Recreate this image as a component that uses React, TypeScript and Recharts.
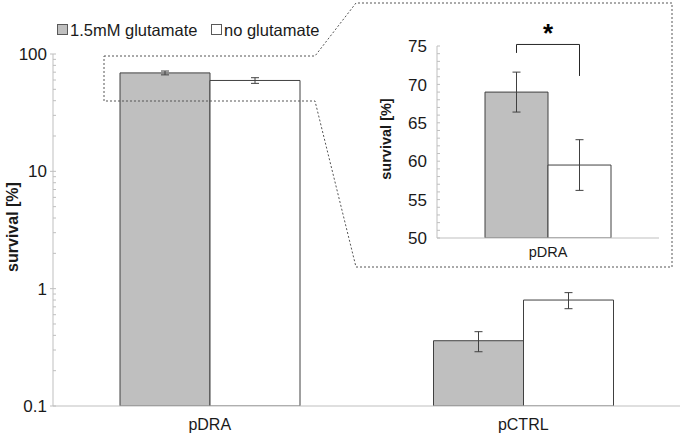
import React from 'react'
import { BarChart, Bar, XAxis, YAxis, ErrorBar, LabelList } from 'recharts'

const categories = ['pDRA', 'pCTRL']
const glutamate = [69.0, 0.36]
const glutamateErr = [2.6, 0.07]
const noGlutamate = [59.5, 0.8]
const noGlutamateErr = [3.3, 0.125]
const seriesNames = ['1.5mM glutamate', 'no glutamate']

const majorTicks = [0.1, 1, 10, 100]
const minorSteps = [2, 3, 4, 5, 6, 7, 8, 9]
const insetTicks = [50, 51, 52, 53, 54, 55, 56, 57, 58, 59, 60, 61, 62, 63, 64, 65, 66, 67, 68, 69, 70, 71, 72, 73, 74, 75]

// significance bracket, in inset data units
const bracketTop = 75.2
const bracketLeft = 74.1
const bracketRight = 71.1

const FONT = '"Liberation Sans", Arial, sans-serif'
const TEXT = '#1a1a1a'
const AXIS = '#bfbfbf'
const EDGE = '#404040'
const GRAY = '#bfbfbf'

const data = categories.map((c, i) => ({
  name: c,
  glu: glutamate[i],
  gluErr: glutamateErr[i],
  none: noGlutamate[i],
  noneErr: noGlutamateErr[i],
}))
const insetData = data.slice(0, 1)

const allTicks: number[] = []
majorTicks.forEach((m, i) => {
  allTicks.push(m)
  if (i < majorTicks.length - 1) minorSteps.forEach((s) => allTicks.push(+(m * s).toFixed(3)))
})

const LogTick = (props: any) => {
  const { x, y, payload } = props
  const major = majorTicks.includes(payload.value)
  return (
    <g>
      <line x1={major ? x - 3 : x} x2={x + 3} y1={y} y2={y} stroke={AXIS} />
      {major && (
        <text x={x - 6} y={y} dy="0.36em" textAnchor="end" fontSize={17} fill={TEXT} fontFamily={FONT}>
          {payload.value}
        </text>
      )}
    </g>
  )
}

const InsetTick = (props: any) => {
  const { x, y, payload } = props
  const major = payload.value % 5 === 0
  return (
    <g>
      <line x1={x} x2={x + 3} y1={y} y2={y} stroke={AXIS} />
      {major && (
        <text x={x - 10} y={y} dy="0.36em" textAnchor="end" fontSize={17} fill={TEXT} fontFamily={FONT}>
          {payload.value}
        </text>
      )}
    </g>
  )
}

const CatTick = (props: any) => {
  const { x, y, payload, dy, fs } = props
  return (
    <text x={x} y={y + dy} textAnchor="middle" fontSize={fs} fill={TEXT} fontFamily={FONT}>
      {payload.value}
    </text>
  )
}

const Bracket = (props: any) => {
  const { x, y, width, height, value, index } = props
  if (index !== 0) return null
  const base = y + height
  const px = (v: number) => base - ((v - 50) * height) / (value - 50)
  const c1 = x + width / 2
  const c2 = c1 + width
  return (
    <g>
      <path
        d={`M${c1},${px(bracketLeft)} V${px(bracketTop)} H${c2} V${px(bracketRight)}`}
        fill="none"
        stroke="#262626"
        strokeWidth={1}
      />
      <text x={(c1 + c2) / 2} y={px(bracketTop) - 2} textAnchor="middle" fontSize={26} fontWeight="bold" fill="#000" fontFamily={FONT}>
        *
      </text>
    </g>
  )
}

export default function App() {
  return (
    <div style={{ position: 'absolute', left: 0, top: 0, width: 683, height: 437, background: '#fff', fontFamily: FONT }}>
      <BarChart width={683} height={437} data={data} margin={{ top: 54, right: 3, left: 0, bottom: 0 }} barSize={90} barGap={0}>
        <XAxis
          dataKey="name"
          height={31}
          axisLine={{ stroke: AXIS }}
          tickLine={false}
          tickSize={0}
          tickMargin={0}
          tick={<CatTick dy={24} fs={16} />}
        />
        <YAxis
          scale="log"
          domain={[0.1, 100]}
          allowDataOverflow
          ticks={allTicks}
          interval={0}
          width={53}
          axisLine={{ stroke: AXIS }}
          tickLine={false}
          tickSize={0}
          tickMargin={0}
          tick={<LogTick />}
        />
        <Bar dataKey="glu" name={seriesNames[0]} fill={GRAY} stroke={EDGE} strokeWidth={1} isAnimationActive={false}>
          <ErrorBar dataKey="gluErr" width={4} stroke={EDGE} strokeWidth={1} direction="y" />
        </Bar>
        <Bar dataKey="none" name={seriesNames[1]} fill="#ffffff" stroke={EDGE} strokeWidth={1} isAnimationActive={false}>
          <ErrorBar dataKey="noneErr" width={4} stroke={EDGE} strokeWidth={1} direction="y" />
        </Bar>
      </BarChart>

      <svg width={683} height={437} style={{ position: 'absolute', left: 0, top: 0, pointerEvents: 'none' }}>
        <polygon
          points="104,56 315,56 356,3 672,3 672,267 356,267 315,101 104,101"
          fill="none"
          stroke="#555"
          strokeWidth={1}
          strokeDasharray="2 2"
        />
        <g fontFamily={FONT} fontSize={16.5} fill={TEXT}>
          <rect x={57.5} y={24.5} width={10} height={10} fill={GRAY} stroke="#595959" />
          <text x={70} y={36}>{seriesNames[0]}</text>
          <rect x={211.5} y={24.5} width={10} height={10} fill="#fff" stroke="#595959" />
          <text x={224} y={36}>{seriesNames[1]}</text>
        </g>
        <text
          x={12}
          y={227}
          transform="rotate(-90 12 227)"
          textAnchor="middle"
          dy="0.36em"
          fontSize={16}
          fontWeight="bold"
          fill={TEXT}
          fontFamily={FONT}
        >
          survival [%]
        </text>
        <text
          x={386}
          y={139}
          transform="rotate(-90 386 139)"
          textAnchor="middle"
          dy="0.36em"
          fontSize={14.5}
          fontWeight="bold"
          fill={TEXT}
          fontFamily={FONT}
        >
          survival [%]
        </text>
      </svg>

      <div style={{ position: 'absolute', left: 355, top: 3 }}>
        <BarChart width={318} height={265} data={insetData} margin={{ top: 43, right: 14, left: 0, bottom: 0 }} barSize={63} barGap={0}>
          <XAxis
            dataKey="name"
            height={30}
            axisLine={{ stroke: AXIS }}
            tickLine={false}
            tickSize={0}
            tickMargin={0}
            tick={<CatTick dy={19} fs={14.5} />}
          />
          <YAxis
            domain={[50, 75]}
            allowDataOverflow
            ticks={insetTicks}
            interval={0}
            width={82}
            axisLine={{ stroke: AXIS }}
            tickLine={false}
            tickSize={0}
            tickMargin={0}
            tick={<InsetTick />}
          />
          <Bar dataKey="glu" fill={GRAY} stroke={EDGE} strokeWidth={1} isAnimationActive={false}>
            <ErrorBar dataKey="gluErr" width={4} stroke={EDGE} strokeWidth={1} direction="y" />
            <LabelList dataKey="glu" content={<Bracket />} />
          </Bar>
          <Bar dataKey="none" fill="#ffffff" stroke={EDGE} strokeWidth={1} isAnimationActive={false}>
            <ErrorBar dataKey="noneErr" width={4} stroke={EDGE} strokeWidth={1} direction="y" />
          </Bar>
        </BarChart>
      </div>
    </div>
  )
}
